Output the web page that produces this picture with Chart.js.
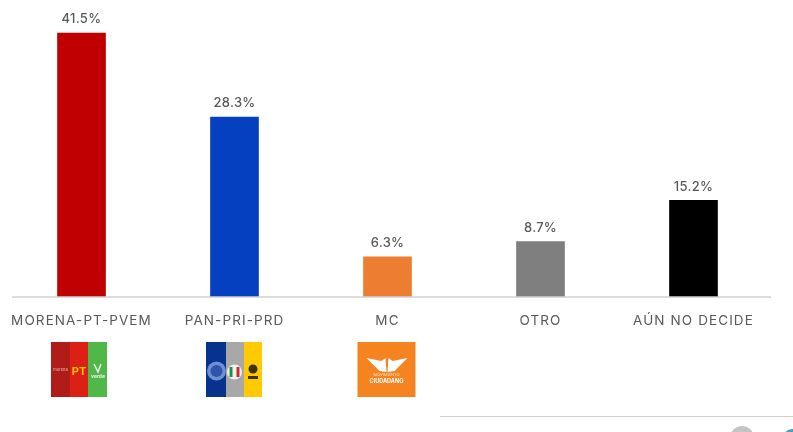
<!DOCTYPE html>
<html>
<head>
<meta charset="utf-8">
<script src="https://cdn.jsdelivr.net/npm/chart.js@4"></script>
<style>
  html, body { margin: 0; padding: 0; background: #fff; }
  #wrap { width: 793px; height: 432px; position: relative; overflow: hidden; }
  canvas { filter: blur(0.6px); display: block; }
</style>
</head>
<body>
<div id="wrap"><canvas id="grafico" width="793" height="432"></canvas></div>
<script>
var categorias = ['MORENA-PT-PVEM', 'PAN-PRI-PRD', 'MC', 'OTRO', 'AÚN NO DECIDE'];
var valores = [41.5, 28.3, 6.3, 8.7, 15.2];
var colores = ['#c00000', '#0540c0', '#ed7d31', '#7f7f7f', '#000000'];

var fuente = 'Inter, "Noto Sans", sans-serif';

// logos drawn under the first three categories
function franjas(ctx, x, y, anchos, cols, alto) {
    var px = x;
    anchos.forEach(function(w, i) {
        ctx.fillStyle = cols[i];
        ctx.fillRect(px, y, w, alto);
        px += w;
    });
}

function textoLogo(ctx, t, x, y, font, color) {
    ctx.font = font;
    ctx.fillStyle = color;
    ctx.textAlign = 'center';
    ctx.textBaseline = 'middle';
    ctx.fillText(t, x, y);
}

function logoMorena(ctx, cx) {
    var x = cx - 30.5, y = 342;
    franjas(ctx, x, y, [19, 18, 19], ['#b01c17', '#dc2015', '#4fb848'], 55);
    textoLogo(ctx, 'morena', x + 9.5, y + 28, '4px ' + fuente, '#e8c0b8');
    textoLogo(ctx, 'PT', x + 28, y + 30, 'bold 11px ' + fuente, '#f7c600');
    textoLogo(ctx, 'verde', x + 47, y + 34, 'bold 5px ' + fuente, '#e8f5e6');
    ctx.strokeStyle = '#f1f8ee';
    ctx.lineWidth = 1.5;
    ctx.beginPath();
    ctx.moveTo(x + 43, y + 22);
    ctx.lineTo(x + 47, y + 30);
    ctx.lineTo(x + 50, y + 22);
    ctx.stroke();
}

function logoAlianza(ctx, cx) {
    var x = cx - 28.5, y = 342;
    franjas(ctx, x, y, [20, 18, 18], ['#07338f', '#a8a8a8', '#ffcb00'], 55);
    ctx.fillStyle = '#6f8fd0';
    ctx.beginPath(); ctx.arc(x + 10.5, y + 29, 9.5, 0, Math.PI * 2); ctx.fill();
    ctx.fillStyle = '#2f55ab';
    ctx.beginPath(); ctx.arc(x + 10.5, y + 29, 6, 0, Math.PI * 2); ctx.fill();
    ctx.fillStyle = '#f2f2f2';
    ctx.beginPath(); ctx.arc(x + 28.5, y + 30, 7.5, 0, Math.PI * 2); ctx.fill();
    ctx.fillStyle = '#2e8b47';
    ctx.fillRect(x + 23.5, y + 25, 3, 10);
    ctx.fillStyle = '#d02c2c';
    ctx.fillRect(x + 30.5, y + 25, 3, 10);
    ctx.fillStyle = '#3d3200';
    ctx.beginPath(); ctx.arc(x + 47, y + 27, 4.5, 0, Math.PI * 2); ctx.fill();
    ctx.fillRect(x + 42, y + 34, 10, 3);
}

function logoMC(ctx, cx) {
    var x = cx - 30, y = 342;
    ctx.fillStyle = '#f58420';
    ctx.fillRect(x, y, 58, 55);
    ctx.fillStyle = '#fff';
    ctx.beginPath();
    ctx.moveTo(x + 9, y + 16);
    ctx.lineTo(x + 24, y + 19);
    ctx.lineTo(x + 28, y + 16);
    ctx.lineTo(x + 29, y + 30);
    ctx.lineTo(x + 22, y + 29);
    ctx.closePath();
    ctx.fill();
    ctx.beginPath();
    ctx.moveTo(x + 50, y + 16);
    ctx.lineTo(x + 35, y + 19);
    ctx.lineTo(x + 31, y + 16);
    ctx.lineTo(x + 30, y + 30);
    ctx.lineTo(x + 37, y + 29);
    ctx.closePath();
    ctx.fill();
    textoLogo(ctx, 'MOVIMIENTO', x + 29, y + 33, '4px ' + fuente, '#fde3c8');
    textoLogo(ctx, 'CIUDADANO', x + 29, y + 39, 'bold 5.5px ' + fuente, '#ffffff');
}

var logos = [logoMorena, logoAlianza, logoMC];

var extras = {
    id: 'extras',
    // the canvas state is reset on init, so the tick spacing is set here
    beforeDraw: function(chart) {
        chart.ctx.letterSpacing = '1.1px';
    },
    afterDatasetsDraw: function(chart) {
        var ctx = chart.ctx;
        var meta = chart.getDatasetMeta(0);
        var escalaX = chart.scales.x;
        var base = chart.scales.y.getPixelForValue(0);

        ctx.save();
        // linea base
        ctx.strokeStyle = '#d0d0d0';
        ctx.lineWidth = 1.5;
        ctx.beginPath();
        ctx.moveTo(12, base);
        ctx.lineTo(771, base);
        ctx.stroke();

        // porcentajes
        ctx.letterSpacing = '0.3px';
        ctx.font = '500 13px ' + fuente;
        ctx.fillStyle = '#595959';
        ctx.textAlign = 'center';
        ctx.textBaseline = 'bottom';
        meta.data.forEach(function(barra, i) {
            ctx.fillText(valores[i].toFixed(1) + '%', barra.x, barra.y - 7);
        });
        ctx.letterSpacing = '0px';

        logos.forEach(function(dibuja, i) {
            dibuja(ctx, escalaX.getPixelForValue(i));
        });

        // linea inferior derecha y restos de la imagen original
        ctx.strokeStyle = '#cfcfcf';
        ctx.lineWidth = 1;
        ctx.beginPath();
        ctx.moveTo(440, 416.5);
        ctx.lineTo(793, 416.5);
        ctx.stroke();
        ctx.fillStyle = '#c4c4c4';
        ctx.beginPath(); ctx.arc(742, 438, 12, 0, Math.PI * 2); ctx.fill();
        ctx.fillStyle = '#4a9fc0';
        ctx.beginPath(); ctx.arc(792, 438, 9, 0, Math.PI * 2); ctx.fill();
        ctx.restore();
    }
};

var ctx = document.getElementById('grafico').getContext('2d');
var grafico = new Chart(ctx, {
    type: 'bar',
    data: {
        labels: categorias,
        datasets: [{
            data: valores,
            backgroundColor: colores,
            barThickness: 48
        }]
    },
    options: {
        responsive: false,
        animation: false,
        layout: { padding: { left: 5, right: 23, top: 0, bottom: 0 } },
        plugins: { legend: { display: false }, tooltip: { enabled: false } },
        scales: {
            x: {
                grid: { display: false, drawTicks: false },
                border: { display: false },
                ticks: {
                    color: '#595959',
                    padding: 16,
                    maxRotation: 0,
                    autoSkip: false,
                    font: { family: fuente, size: 13.5 }
                },
                afterFit: function(escala) { escala.height = 135; }
            },
            y: {
                display: false,
                min: 0,
                max: 46.7
            }
        }
    },
    plugins: [extras]
});
</script>
</body>
</html>
